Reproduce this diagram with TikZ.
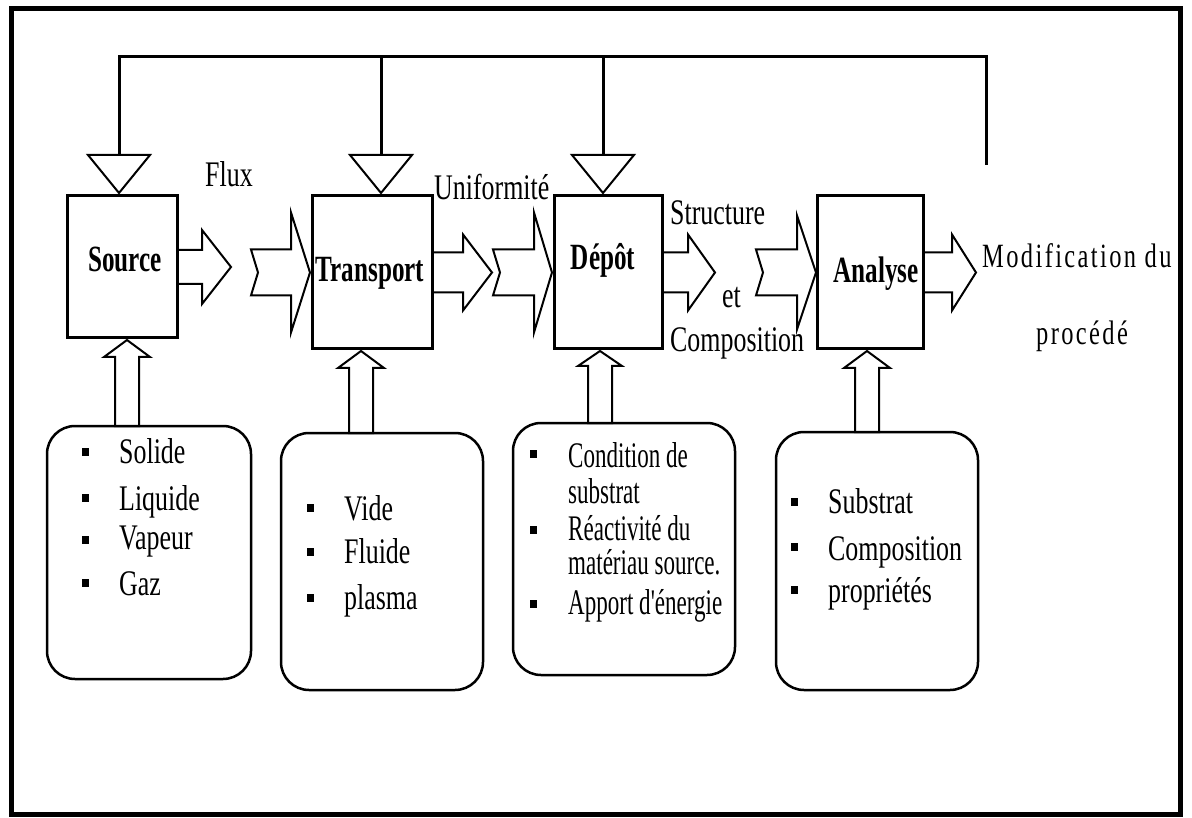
\documentclass[tikz,border=0pt]{standalone}
\usepackage{fontspec}
\setmainfont{Liberation Serif}[FakeStretch=0.72,BoldFeatures={FakeStretch=0.68}]
\newfontfamily\narrowfont{Liberation Serif}[FakeStretch=0.64]
\newfontfamily\spacedfont{Liberation Serif}[FakeStretch=0.72,LetterSpace=7]
\usetikzlibrary{calc}

\tikzset{
  box/.style={draw, line width=3pt, inner sep=0pt, outer sep=0pt},
  pill/.style={draw, line width=2.5pt, rounded corners=28pt, inner sep=0pt, outer sep=0pt},
  blt/.style={fill=black, inner sep=0pt, minimum width=7pt, minimum height=8pt},
  txt/.style={inner sep=0pt, anchor=base west, font=\fontsize{36}{40}\selectfont},
  lbl/.style={inner sep=0pt, anchor=base, font=\fontsize{37}{40}\selectfont\bfseries},
  blk/.style={draw, line width=2pt, line join=miter},
}

\begin{document}
\begin{tikzpicture}[x=1pt,y=-1pt]
\useasboundingbox (0,0) rectangle (1192,818);
\draw[line width=5pt] (11,9) rectangle (1180,814);

% les quatre etapes
\node[box, minimum width=110pt, minimum height=142pt] (source) at (122,267) {};
\node[box, minimum width=120pt, minimum height=153pt] (transport) at (372,272.5) {};
\node[box, minimum width=108pt, minimum height=153pt] (depot) at (608,272.5) {};
\node[box, minimum width=106pt, minimum height=153pt] (analyse) at (870,272.5) {};
\node[lbl] (lsource) at (125,272) {Source};
\node[lbl] (ltransport) at (370,282) {Transport};
\node[lbl] (ldepot) at (603,270) {Dépôt};
\node[lbl] (lanalyse) at (876,283) {Analyse};

% retour (modification du procede)
\coordinate (fbtop) at (0,57);
\coordinate (fbend) at (986,165);
\coordinate (t1) at (119,155);
\coordinate (t2) at (381,155);
\coordinate (t3) at (603,155);
\draw[line width=3pt] (fbend) -- (fbend |- fbtop) -| (t1);
\draw[line width=3pt] (t2 |- fbtop) -- (t2);
\draw[line width=3pt] (t3 |- fbtop) -- (t3);
\draw[blk, shift={(t1)}] (-31,0) -- (31,0) -- (0,38) -- cycle;
\draw[blk, shift={(t2)}] (-31,0) -- (31,0) -- (0,38) -- cycle;
\draw[blk, shift={(t3)}] (-31,0) -- (31,0) -- (0,38) -- cycle;

% fleches de sortie
\draw[blk, shift={(source.east)}] (0,-17) -- (25,-17) -- (25,-37) -- (54,0) -- (25,37) -- (25,17) -- (0,17);
\draw[blk, shift={(transport.east)}] (0,-20) -- (31,-20) -- (31,-38) -- (60,0) -- (31,38) -- (31,20) -- (0,20);
\draw[blk, shift={(depot.east)}] (0,-20) -- (26,-20) -- (26,-38) -- (53,0) -- (26,38) -- (26,20) -- (0,20);
\draw[blk, shift={(analyse.east)}] (0,-20) -- (29,-20) -- (29,-38) -- (53,0) -- (29,38) -- (29,20) -- (0,20);

% fleches d'entree
\draw[blk, shift={(transport.west)}] (-61,-23) -- (-21,-23) -- (-21,-60) -- (-2,0) -- (-21,60) -- (-21,23) -- (-61,23) -- (-54,0) -- cycle;
\draw[blk, shift={(depot.west)}] (-61,-23) -- (-20,-23) -- (-20,-60) -- (-2,0) -- (-20,60) -- (-20,23) -- (-61,23) -- (-54,0) -- cycle;
\draw[blk, shift={(analyse.west)}] (-61,-23) -- (-20,-23) -- (-20,-57) -- (-1,0) -- (-20,57) -- (-20,23) -- (-61,23) -- (-54,0) -- cycle;

% conditions
\node[pill, minimum width=204pt, minimum height=253pt] (pill1) at (149,552.5) {};
\node[pill, minimum width=202pt, minimum height=257pt] (pill2) at (382,561.5) {};
\node[pill, minimum width=222pt, minimum height=252pt] (pill3) at (624,549) {};
\node[pill, minimum width=202pt, minimum height=258pt] (pill4) at (877,561) {};

\draw[blk, shift={($(source.south)+(5,0)$)}] (0,2) -- (23,19) -- (12,19) -- (12,88) -- (-12,88) -- (-12,19) -- (-23,19) -- cycle;
\draw[blk, shift={($(transport.south)+(-11,0)$)}] (0,2) -- (23,19) -- (12,19) -- (12,84) -- (-12,84) -- (-12,19) -- (-23,19) -- cycle;
\draw[blk, shift={($(depot.south)+(-8,0)$)}] (0,2) -- (22,17) -- (12,17) -- (12,74) -- (-12,74) -- (-12,17) -- (-22,17) -- cycle;
\draw[blk, shift={($(analyse.south)+(-3,0)$)}] (0,2) -- (23,19) -- (12,19) -- (12,83) -- (-12,83) -- (-12,19) -- (-23,19) -- cycle;

\node[blt] (b11) at (85,452) {};
\node[blt] (b12) at (85,498) {};
\node[blt] (b13) at (85,540) {};
\node[blt] (b14) at (85,583) {};
\node[txt] (s11) at (119,463) {Solide};
\node[txt] (s12) at (119,510) {Liquide};
\node[txt] (s13) at (119,549) {Vapeur};
\node[txt] (s14) at (119,595) {Gaz};

\node[blt] (b21) at (310,508) {};
\node[blt] (b22) at (310,552) {};
\node[blt] (b23) at (310,598) {};
\node[txt] (s21) at (344,520) {Vide};
\node[txt] (s22) at (344,563) {Fluide};
\node[txt] (s23) at (344,609) {plasma};

\node[blt] (b31) at (533,454) {};
\node[blt] (b32) at (533,530) {};
\node[blt] (b33) at (533,604) {};
\node[txt, font=\fontsize{36}{40}\narrowfont] (s31) at (568,467) {Condition de};
\node[txt, font=\fontsize{36}{40}\narrowfont] (s32) at (568,503) {substrat};
\node[txt, font=\fontsize{36}{40}\narrowfont] (s33) at (568,540) {Réactivité du};
\node[txt, font=\fontsize{36}{40}\narrowfont] (s34) at (568,574) {matériau source.};
\node[txt, font=\fontsize{36}{40}\narrowfont] (s35) at (568,614) {Apport d'énergie};

\node[blt] (b41) at (794,502) {};
\node[blt] (b42) at (794,547) {};
\node[blt] (b43) at (794,590) {};
\node[txt] (s41) at (828,513) {Substrat};
\node[txt] (s42) at (828,560) {Composition};
\node[txt] (s43) at (828,602) {propriétés};

% textes des sorties
\node[txt] (flux) at (205,187) {Flux};
\node[txt] (unif) at (434,200) {Uniformité};
\node[txt] (struct) at (670,225) {Structure};
\node[txt] (et) at (722,308) {et};
\node[txt] (compo) at (670,352) {Composition};
\node[txt, font=\fontsize{34}{40}\spacedfont] (modif) at (982,268) {Modification du};
\node[txt, anchor=base, font=\fontsize{34}{40}\spacedfont] (proc) at (1082,345) {procédé};
\end{tikzpicture}
\end{document}
